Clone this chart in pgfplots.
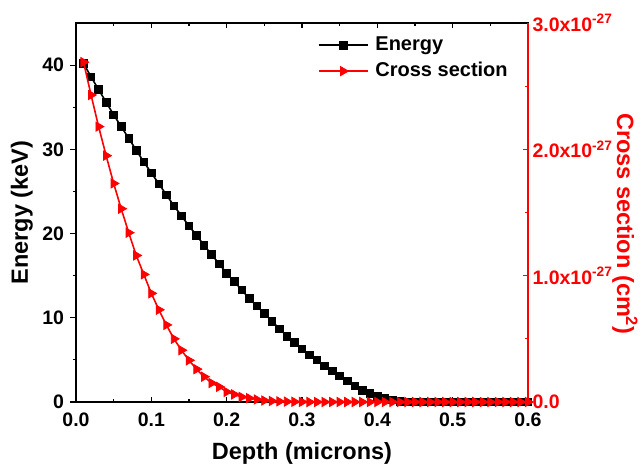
\documentclass[border=0pt]{standalone}
\usepackage{pgfplots}
\pgfplotsset{compat=1.18}
\usepackage{pgfplotstable}
\usepackage{fontspec}
\setmainfont{Liberation Sans}
\definecolor{myred}{RGB}{255,0,0}
\pgfplotstableread{
x e
0.01 40.2
0.02 38.6
0.03 37.1
0.04 35.6
0.05 34.1
0.06 32.7
0.07 31.3
0.08 29.9
0.09 28.5
0.10 27.2
0.11 25.9
0.12 24.6
0.13 23.3
0.14 22.1
0.15 20.9
0.16 19.8
0.17 18.6
0.18 17.5
0.19 16.4
0.20 15.3
0.21 14.3
0.22 13.3
0.23 12.3
0.24 11.4
0.25 10.5
0.26 9.6
0.27 8.7
0.28 7.8
0.29 7.1
0.30 6.3
0.31 5.6
0.32 5.0
0.33 4.3
0.34 3.7
0.35 3.1
0.36 2.5
0.37 1.9
0.38 1.4
0.39 1.0
0.40 0.7
0.41 0.45
0.42 0.25
0.43 0.1
0.44 0
0.45 0
0.46 0
0.47 0
0.48 0
0.49 0
0.50 0
0.51 0
0.52 0
0.53 0
0.54 0
0.55 0
0.56 0
0.57 0
0.58 0
0.59 0
0.60 0
}\energy
\pgfplotstableread{
x c
0.01 2.69
0.02 2.43
0.03 2.18
0.04 1.95
0.05 1.73
0.06 1.53
0.07 1.34
0.08 1.16
0.09 1.01
0.10 0.86
0.11 0.73
0.12 0.61
0.13 0.50
0.14 0.41
0.15 0.33
0.16 0.26
0.17 0.20
0.18 0.15
0.19 0.12
0.20 0.08
0.21 0.06
0.22 0.04
0.23 0.03
0.24 0.02
0.25 0.012
0.26 0.008
0.27 0.005
0.28 0.003
0.29 0.002
0.30 0.001
0.31 0
0.32 0
0.33 0
0.34 0
0.35 0
0.36 0
0.37 0
0.38 0
0.39 0
0.40 0
0.41 0
0.42 0
0.43 0
0.44 0
0.45 0
0.46 0
0.47 0
0.48 0
0.49 0
0.50 0
0.51 0
0.52 0
0.53 0
0.54 0
0.55 0
0.56 0
0.57 0
0.58 0
0.59 0
0.60 0
}\cross
\begin{document}
\begin{tikzpicture}
\pgfplotsset{
  every axis/.append style={
    scale only axis, width=452pt, height=379pt,
    xmin=0, xmax=0.6,
    major tick length=5.5pt, minor tick length=3pt,
    tick label style={font=\fontsize{19.5}{22}\selectfont\bfseries},
    label style={font=\fontsize{23.5}{27}\selectfont\bfseries},
  }
}
\begin{axis}[
  name=ax,
  ymin=0, ymax=45,
  axis line style={line width=1.4pt},
  xtick=\empty,
  ytick={0,10,20,30,40},
  yticklabels={0,10,20,30,40},
  minor ytick={5,15,25,35},
  ytick pos=left,
  tick align=outside,
  every tick/.style={black, line width=1.2pt},
  yticklabel style={xshift=-3pt},
  ylabel={Energy (keV)},
  ylabel style={at={(axis description cs:-0.1062,0.5)}, anchor=base, rotate=0},
  legend style={at={(axis description cs:0.535,0.968)}, anchor=north west, draw=none, fill=none,
    inner sep=0pt, outer sep=0pt,
    font=\fontsize{20}{24}\selectfont\bfseries, row sep=6pt, column sep=0pt,
    nodes={inner sep=0pt, text height=15pt, text depth=5pt},
    /tikz/every odd column/.style={column sep=7pt}},
  legend cell align=left,
  legend image code/.code={\draw[mark repeat=2,mark phase=2] plot coordinates {(0pt,0pt) (24.5pt,0pt) (49pt,0pt)};},
]
\addplot[black, line width=1.6pt, mark=square*, mark size=3.8pt, mark options={solid, line width=0.8pt}] table[x=x,y=e] {\energy};
\addlegendentry{Energy}
\addlegendimage{myred, line width=1.6pt, mark=triangle*, mark size=5.3pt, mark options={solid, line width=0.8pt}, every mark/.append style={rotate=-90}}
\addlegendentry{Cross section}
\end{axis}
\begin{axis}[
  ymin=0, ymax=3,
  axis x line*=box,
  axis y line*=right,
  x axis line style={black, line width=1.4pt, -},
  y axis line style={myred, line width=1.4pt, -},
  xtick={0,0.1,0.2,0.3,0.4,0.5,0.6},
  xticklabels={0.0,0.1,0.2,0.3,0.4,0.5,0.6},
  minor xtick={0.05,0.15,0.25,0.35,0.45,0.55},
  ytick={0,1,2,3},
  yticklabels={0.0,1.0x10\textsuperscript{-27},2.0x10\textsuperscript{-27},3.0x10\textsuperscript{-27}},
  minor ytick={0.5,1.5,2.5},
  tick align=inside,
  every tick/.style={line width=1.2pt},
  x tick style={black},
  y tick style={myred},
  yticklabel style={myred, xshift=1pt},
  xticklabel style={yshift=-7pt},
  xlabel={Depth (microns)},
  xlabel style={at={(axis description cs:0.5,0)}, anchor=base, yshift=-57pt},
  ylabel={Cross section (cm\textsuperscript{2})},
  ylabel style={myred, at={(axis description cs:1.197,0.47)}, anchor=base, rotate=180},
]
\addplot[myred, line width=1.6pt, mark=triangle*, mark size=5.3pt, mark options={solid, rotate=-90, line width=0.8pt}] table[x=x,y=c] {\cross};
\end{axis}
\path[use as bounding box] ([shift={(-76pt,-64pt)}]ax.south west) rectangle ([shift={(115pt,23pt)}]ax.north east);
\end{tikzpicture}
\end{document}
